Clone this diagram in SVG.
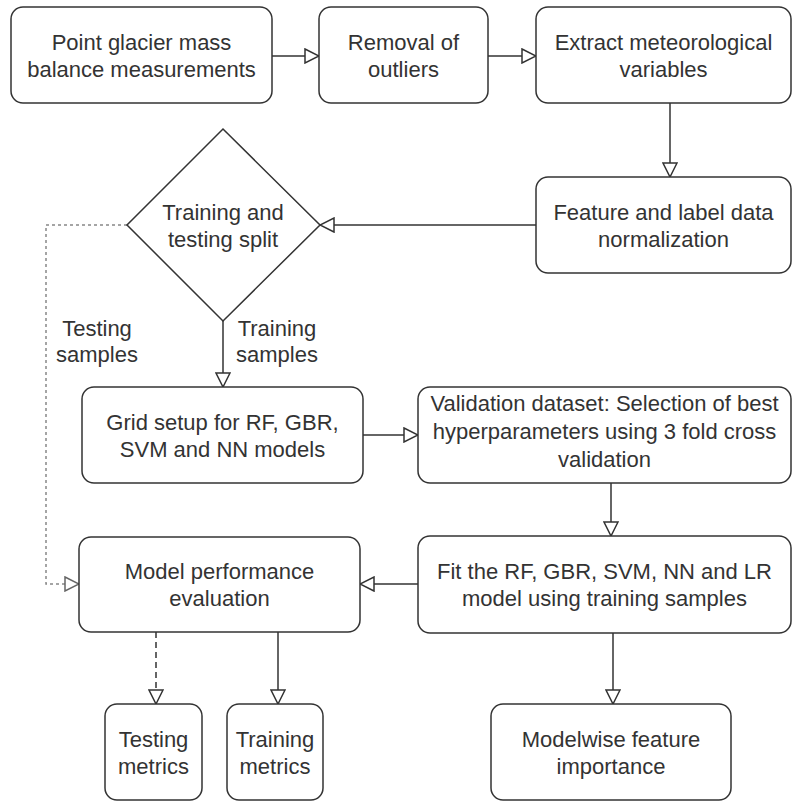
<svg xmlns="http://www.w3.org/2000/svg" width="793" height="801" viewBox="0 0 793 801">
<defs>
<style>
.n{fill:#fff;stroke:#333;stroke-width:1.5}
.t{font-family:"Liberation Sans",Arial,sans-serif;font-size:22px;fill:#333;text-anchor:middle}
.c{fill:none;stroke:#333;stroke-width:1.5}
.d{fill:none;stroke:#333;stroke-width:1.5;stroke-dasharray:6 4}
.g{fill:none;stroke:#888;stroke-width:1.5;stroke-dasharray:3 3}
</style>
<marker id="a" viewBox="0 0 16 16" refX="15" refY="8" markerWidth="16" markerHeight="16" markerUnits="userSpaceOnUse" orient="auto">
<path d="M1,1 L15,8 L1,15 Z" fill="#fff" stroke="#333" stroke-width="1.5"/>
</marker>
<marker id="ag" viewBox="0 0 16 16" refX="15" refY="8" markerWidth="16" markerHeight="16" markerUnits="userSpaceOnUse" orient="auto">
<path d="M1,1 L15,8 L1,15 Z" fill="#fff" stroke="#666" stroke-width="1.5"/>
</marker>
</defs>
<rect width="793" height="801" fill="#fff"/>
<g id="connectors">
<path class="c" d="M272,56 H319" marker-end="url(#a)"/>
<path class="c" d="M488,56 H536" marker-end="url(#a)"/>
<path class="c" d="M670,103 V177" marker-end="url(#a)"/>
<path class="c" d="M536,225 H320" marker-end="url(#a)"/>
<path class="c" d="M223,321 V387" marker-end="url(#a)"/>
<path class="g" d="M127,225 H46 V584 H79" marker-end="url(#ag)"/>
<path class="c" d="M363,435 H418" marker-end="url(#a)"/>
<path class="c" d="M611,483 V536" marker-end="url(#a)"/>
<path class="c" d="M418,584 H360" marker-end="url(#a)"/>
<path class="d" d="M156,632 V704" marker-end="url(#a)"/>
<path class="c" d="M278,632 V704" marker-end="url(#a)"/>
<path class="c" d="M613,633 V704" marker-end="url(#a)"/>
<text class="t" x="97" y="336">Testing</text>
<text class="t" x="97" y="362">samples</text>
<text class="t" x="277" y="336">Training</text>
<text class="t" x="277" y="362">samples</text>
</g>
<g id="n1"><rect class="n" x="11" y="7" width="261" height="96" rx="12"/>
<text class="t" x="141.5" y="50">Point glacier mass</text><text class="t" x="141.5" y="77">balance measurements</text></g>
<g id="n2"><rect class="n" x="319" y="7" width="169" height="96" rx="12"/>
<text class="t" x="403.5" y="50">Removal of</text><text class="t" x="403.5" y="77">outliers</text></g>
<g id="n3"><rect class="n" x="536" y="7" width="255" height="96" rx="12"/>
<text class="t" x="663.5" y="50">Extract meteorological</text><text class="t" x="663.5" y="77">variables</text></g>
<g id="n4"><rect class="n" x="536" y="177" width="255" height="96" rx="12"/>
<text class="t" x="663.5" y="219.5">Feature and label data</text><text class="t" x="663.5" y="246.5">normalization</text></g>
<g id="n5"><path class="n" d="M223,129 L320,225 L223,321 L127,225 Z"/>
<text class="t" x="223" y="219.5">Training and</text><text class="t" x="223" y="246.5">testing split</text></g>
<g id="n6"><rect class="n" x="82" y="387" width="281" height="96" rx="12"/>
<text class="t" x="222.5" y="429.5">Grid setup for RF, GBR,</text><text class="t" x="222.5" y="456.5">SVM and NN models</text></g>
<g id="n7"><rect class="n" x="418" y="387" width="373" height="96" rx="12"/>
<text class="t" x="604.5" y="411">Validation dataset: Selection of best</text><text class="t" x="604.5" y="439">hyperparameters using 3 fold cross</text><text class="t" x="604.5" y="467">validation</text></g>
<g id="n8"><rect class="n" x="418" y="536" width="373" height="97" rx="12"/>
<text class="t" x="604.5" y="579">Fit the RF, GBR, SVM, NN and LR</text><text class="t" x="604.5" y="606">model using training samples</text></g>
<g id="n9"><rect class="n" x="79" y="537" width="281" height="95" rx="12"/>
<text class="t" x="219.5" y="579">Model performance</text><text class="t" x="219.5" y="606">evaluation</text></g>
<g id="n10"><rect class="n" x="105" y="704" width="97" height="96" rx="12"/>
<text class="t" x="153.5" y="746.5">Testing</text><text class="t" x="153.5" y="773.5">metrics</text></g>
<g id="n11"><rect class="n" x="227" y="704" width="96" height="96" rx="12"/>
<text class="t" x="275" y="746.5">Training</text><text class="t" x="275" y="773.5">metrics</text></g>
<g id="n12"><rect class="n" x="491" y="704" width="240" height="96" rx="12"/>
<text class="t" x="611" y="746.5">Modelwise feature</text><text class="t" x="611" y="773.5">importance</text></g>
</svg>
